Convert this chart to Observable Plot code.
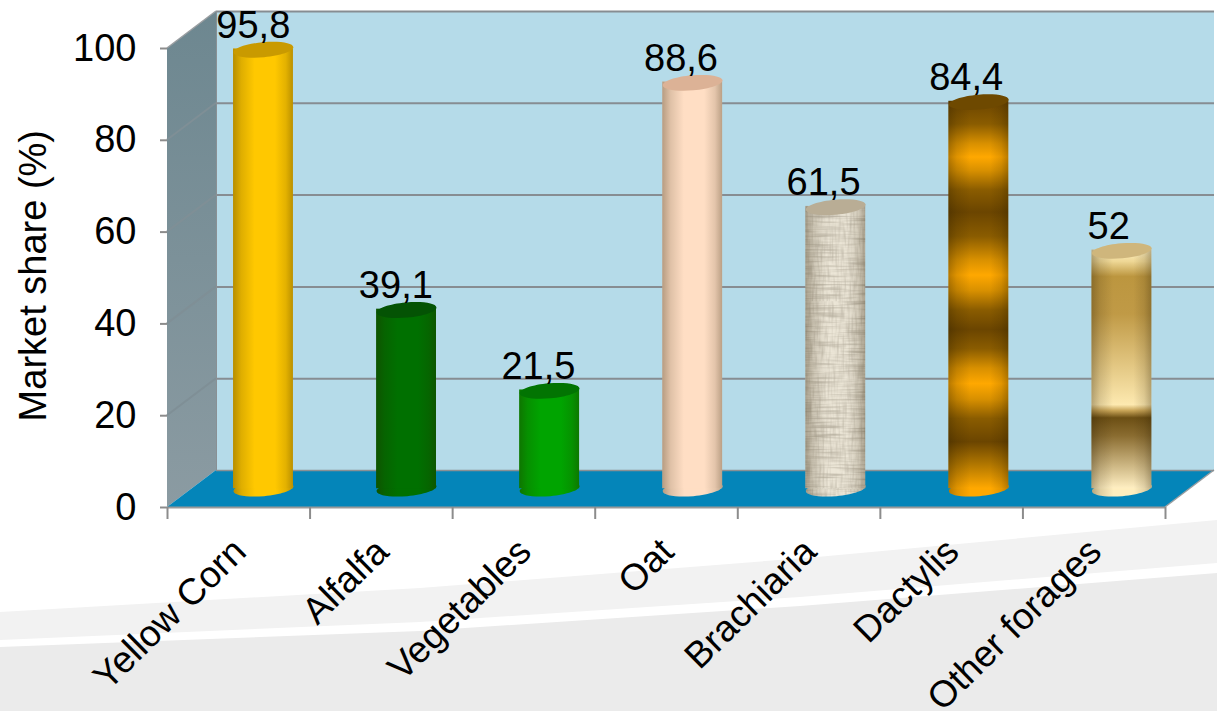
<!DOCTYPE html>
<html>
<head>
<meta charset="utf-8">
<script src="https://cdn.jsdelivr.net/npm/d3@7"></script>
<script src="https://cdn.jsdelivr.net/npm/@observablehq/plot@0.6"></script>
<style>
html,body{margin:0;padding:0;background:#fff;overflow:hidden}
#chart{width:1217px;height:711px;
background-repeat:no-repeat;background-size:1217px 711px;
background-image:url("data:image/svg+xml,%3Csvg xmlns='http://www.w3.org/2000/svg' width='1217' height='711'%3E%3Cpath d='M0 612L420 588L817 557L1217 520V563L800 597L420 622L0 640Z' fill='%23f2f2f2'/%3E%3Cpath d='M0 647L420 631L800 606L1217 573V711H0Z' fill='%23ebebeb'/%3E%3C/svg%3E")}
svg{display:block}
</style>
</head>
<body>
<div id="chart"></div>
<script>
const categories = ["Yellow Corn","Alfalfa","Vegetables","Oat","Brachiaria","Dactylis","Other forages"];
const shares = [95.8,39.1,21.5,88.6,61.5,84.4,52];
const shareLabels = ["95,8","39,1","21,5","88,6","61,5","84,4","52"];
const yTicks = [0,20,40,60,80,100];

const bars = categories.map((name,i)=>({name,i,value:shares[i],label:shareLabels[i]}));

const bodyFill = ["#ffc800","#007000","#00a400","#ffdec4","url(#weave)","url(#dactylis)","url(#forage)"];
const topFill  = ["#c99a00","#045304","#027402","#dcb296","#b9ad95","#6e4900","#cfb67c"];
const baseFill = ["#ffc800","#007000","#00a400","#ffdec4","url(#weave)","#ffa800","#ffeebe"];

const FONT = "Liberation Sans, Arial, sans-serif";
const FS = 38, DX = 49, DY = -37, BDX = 24.7, BDY = -18, BW = 0.21;
const pos = d => d.i + 0.5 + d.i*0.0035;

function ellipse(rx,ry,deg){
  const t = deg*Math.PI/180, c=Math.cos(t), s=Math.sin(t), k=0.5523;
  const p=(a,b)=>[a*rx*c-b*ry*s, a*rx*s+b*ry*c];
  return {draw(ctx){
    ctx.moveTo(...p(1,0));
    ctx.bezierCurveTo(...p(1,k),...p(k,1),...p(0,1));
    ctx.bezierCurveTo(...p(-k,1),...p(-1,k),...p(-1,0));
    ctx.bezierCurveTo(...p(-1,-k),...p(-k,-1),...p(0,-1));
    ctx.bezierCurveTo(...p(k,-1),...p(1,-k),...p(1,0));
    ctx.closePath();
  }};
}
const cap = ellipse(30,7.5,-5);

function defs(){
  const d = d3.create("svg:defs");
  const grad=(id,dir,stops)=>{
    const g=d.append("linearGradient").attr("id",id);
    if(dir==="v") g.attr("x1",0).attr("y1",0).attr("x2",0).attr("y2",1);
    for(const [o,c,a] of stops) g.append("stop").attr("offset",o).attr("stop-color",c).attr("stop-opacity",a??1);
  };
  grad("shade","h",[[0,"#2a1c00",.34],[.14,"#2a1c00",.15],[.36,"#2a1c00",0],[.7,"#2a1c00",0],[.88,"#2a1c00",.13],[1,"#2a1c00",.32]]);
  grad("side","v",[[0,"#6d8790"],[1,"#8b9ba2"]]);
  grad("dactylis","v",[
    [0,"#6b4500"],[.06,"#8a5c00"],[.11,"#d89000"],[.145,"#ffa800"],[.18,"#d89000"],[.23,"#8a5c00"],[.287,"#6b4500"],
    [.35,"#8a5c00"],[.41,"#d89000"],[.45,"#ffa800"],[.49,"#d89000"],[.54,"#8a5c00"],[.59,"#6b4500"],
    [.64,"#8a5c00"],[.69,"#d89000"],[.73,"#ffa800"],[.77,"#d89000"],[.82,"#8a5c00"],[.88,"#6b4500"],
    [.94,"#b37800"],[1,"#ffa800"]]);
  grad("forage","v",[[0,"#fff1c4"],[.05,"#eed795"],[.113,"#bc963f"],[.27,"#c09a46"],[.65,"#fde9b0"],[.675,"#c7a356"],[.705,"#6c4f14"],[.78,"#8a6c30"],[1,"#ffefc2"]]);
  const noise=(id,freq,seed,slope,off)=>{
    const f=d.append("filter").attr("id",id).attr("x",0).attr("y",0).attr("width","100%").attr("height","100%");
    f.append("feTurbulence").attr("type","fractalNoise").attr("baseFrequency",freq).attr("numOctaves",2).attr("seed",seed);
    f.append("feColorMatrix").attr("type","matrix").attr("values",`0 0 0 0 .45  0 0 0 0 .41  0 0 0 0 .33  ${slope} 0 0 0 ${off}`);
  };
  noise("noiseH","0.03 0.6",4,1.9,-.8);
  noise("noiseV","0.55 0.05",9,1.5,-.65);
  const p=d.append("pattern").attr("id","weave").attr("patternUnits","userSpaceOnUse").attr("width",240).attr("height",320);
  p.append("rect").attr("width",240).attr("height",320).attr("fill","#ece6d7");
  p.append("rect").attr("width",240).attr("height",320).attr("filter","url(#noiseH)");
  p.append("rect").attr("width",240).attr("height",320).attr("filter","url(#noiseV)");
  return d.node();
}

function sides(_,{x,y}){
  const g=d3.create("svg:g");
  const x0=x(0),x1=x(7),y0=y(0),yt=y(100);
  g.append("path").attr("d",`M${x0},${y0}L${x0},${yt}L${x0+DX},${yt+DY}L${x0+DX},${y0+DY}Z`).attr("fill","url(#side)");
  g.append("path").attr("d",`M${x0},${y0}L${x1},${y0}L${x1+DX},${y0+DY}L${x0+DX},${y0+DY}Z`).attr("fill","#0485b9");
  for(const t of yTicks.filter(v=>v>0&&v<100))
    g.append("line").attr("x1",x0).attr("y1",y(t)).attr("x2",x0+DX).attr("y2",y(t)+DY).attr("stroke","#7f8f96").attr("stroke-width",2);
  g.append("line").attr("x1",x0).attr("y1",yt).attr("x2",x0+DX).attr("y2",yt+DY).attr("stroke","#9a9ea1").attr("stroke-width",1.5);
  g.append("line").attr("x1",x1).attr("y1",y0).attr("x2",x1+DX).attr("y2",y0+DY).attr("stroke","#9a9ea1").attr("stroke-width",1.5);
  return g.node();
}

const chart = Plot.plot({
  width:1217,height:711,
  marginLeft:167,marginRight:52,marginTop:48,marginBottom:204,
  style:{background:"transparent",fontFamily:FONT},
  x:{type:"linear",domain:[0,7],axis:null},
  y:{domain:[0,100],axis:null},
  color:{type:"identity"},
  marks:[
    defs,
    Plot.rect([0],{x1:0,x2:7,y1:0,y2:100,dx:DX,dy:DY,fill:"#b5dbe9"}),
    Plot.ruleY(yTicks.slice(1),{x1:0,x2:7,dx:DX,dy:DY,stroke:"#878d92",strokeWidth:2}),
    sides,
    Plot.ruleY([0],{x1:0,x2:7,dx:DX,dy:DY,stroke:"#8a9094",strokeWidth:1.5}),
    Plot.ruleX([0],{y1:0,y2:100,dx:DX,dy:DY,stroke:"#8a9094",strokeWidth:1}),
    Plot.ruleY([0],{x1:0,x2:7,stroke:"#9a9a9a",strokeWidth:2}),
    Plot.axisY({ticks:yTicks,tickSize:7,tickPadding:24,fontSize:FS,fontFamily:FONT,label:null,stroke:"#8c8c8c",strokeWidth:2,fill:"#000",anchor:"left"}),
    Plot.axisX({ticks:d3.range(8),tickSize:12,tickFormat:()=>"",label:null,stroke:"#8c8c8c",strokeWidth:2,anchor:"bottom"}),
    Plot.text(["Market share (%)"],{text:d=>d,frameAnchor:"left",textAnchor:"middle",y:()=>50.5,dx:-134,rotate:-90,fontSize:FS,fontFamily:FONT,fill:"#000"}),
    Plot.dot(bars,{x:pos,y:()=>0,dx:BDX,dy:BDY-.8,symbol:cap,stroke:"none",fill:d=>baseFill[d.i]}),
    Plot.dot(bars,{x:pos,y:()=>0,dx:BDX,dy:BDY-.8,symbol:cap,stroke:"none",fill:()=>"url(#shade)"}),
    Plot.rect(bars,{x1:d=>pos(d)-BW,x2:d=>pos(d)+BW,y1:()=>0,y2:"value",dx:BDX,dy:BDY-.8,fill:d=>bodyFill[d.i]}),
    Plot.rect(bars,{x1:d=>pos(d)-BW,x2:d=>pos(d)+BW,y1:()=>0,y2:"value",dx:BDX,dy:BDY-.8,fill:()=>"url(#shade)"}),
    Plot.dot(bars,{x:pos,y:"value",dx:BDX,dy:BDY,symbol:cap,stroke:"none",fill:d=>topFill[d.i]}),
    Plot.text(bars,{x:d=>d.i+0.5,y:"value",text:"label",dx:14.5,dy:-42,fontSize:FS,fontFamily:FONT,fill:"#000"}),
    Plot.text(bars,{x:d=>d.i+0.5,y:()=>0,text:"name",rotate:-44.5,textAnchor:"end",dx:1,dy:38,fontSize:37,fontFamily:FONT,fill:"#000"})
  ]
});
document.getElementById("chart").append(chart);
</script>
</body>
</html>
